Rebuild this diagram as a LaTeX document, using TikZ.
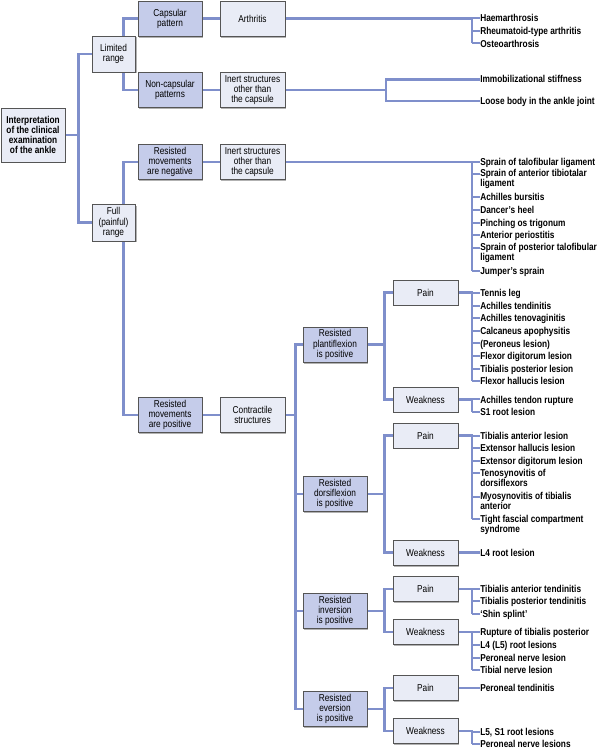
\documentclass[tikz,border=0pt]{standalone}
\usepackage{fontspec}
\setmainfont[FakeStretch=0.83]{Liberation Sans}
\usepackage{tikz}
\usepackage{xcolor}
\usetikzlibrary{backgrounds}
\usetikzlibrary{shadows}
\definecolor{linkblue}{HTML}{7F8FCB}
\definecolor{darkfill}{HTML}{C5CCEA}
\definecolor{lightfill}{HTML}{E9ECF6}
\definecolor{boxline}{HTML}{555555}
\tikzset{box/.style={draw=boxline, line width=0.5pt, fill=lightfill, align=center,
   inner sep=0pt, minimum width=48pt, minimum height=26.5pt,
   font=\fontsize{7.5}{7.6}\selectfont,
   drop shadow={shadow xshift=1pt, shadow yshift=-1pt, fill=black, opacity=0.3}},
 darkbox/.style={fill=darkfill},
 smallbox/.style={minimum width=48.75pt, minimum height=18.75pt},
 item/.style={anchor=north west, align=left, inner sep=0pt,
   font=\fontsize{7.5}{7.6}\selectfont\bfseries,
   execute at begin node={\rule{0pt}{6pt}}},
 link/.style={draw=linkblue, line width=2.2pt},
 itemtick/.style={draw=linkblue, line width=1.5pt},
 }

\begin{document}
\begin{tikzpicture}[x=0.75pt, y=-0.75pt]
        \useasboundingbox (0,0) rectangle (598,750);
        \node[box, minimum height=40.5pt, font=\fontsize{7.5}{7.6}\selectfont\bfseries] (root) at (33,135) {Interpretation\\of the clinical\\examination\\of the ankle};
        \node[box, minimum width=32.5pt, minimum height=27pt] (limited) at (113.5,54) {Limited\\range};
        \node[box, minimum width=32.5pt, minimum height=27.5pt] (full) at (113.5,222.5) {Full\\(painful)\\range};
        \node[box, darkbox] (capsular) at (170,18.5) {Capsular\\pattern};
        \node[box, darkbox] (noncap) at (170,90) {Non-capsular\\patterns};
        \node[box, darkbox] (resneg) at (170,162) {Resisted\\movements\\are negative};
        \node[box, darkbox] (respos) at (170,415) {Resisted\\movements\\are positive};
        \node[box, minimum width=48.75pt] (arthritis) at (252.5,18.5) {Arthritis};
        \node[box, minimum width=48.75pt] (inert1) at (252.5,90) {Inert structures\\other than\\the capsule};
        \node[box, minimum width=48.75pt] (inert2) at (252.5,162) {Inert structures\\other than\\the capsule};
        \node[box, minimum width=48.75pt] (contr) at (252.5,415) {Contractile\\structures};
        \node[box, darkbox] (plant) at (335,344.5) {Resisted\\plantiflexion\\is positive};
        \node[box, darkbox] (dorsi) at (335,494) {Resisted\\dorsiflexion\\is positive};
        \node[box, darkbox] (inv) at (335,611) {Resisted\\inversion\\is positive};
        \node[box, darkbox] (ever) at (335,709) {Resisted\\eversion\\is positive};
        \node[box, smallbox] (painP) at (425.5,292.5) {Pain};
        \node[box, smallbox] (weakP) at (425.5,399.5) {Weakness};
        \node[box, smallbox] (painD) at (425.5,435.5) {Pain};
        \node[box, smallbox] (weakD) at (425.5,552.7) {Weakness};
        \node[box, smallbox] (painI) at (425.5,589) {Pain};
        \node[box, smallbox] (weakI) at (425.5,632) {Weakness};
        \node[box, smallbox] (painE) at (425.5,688) {Pain};
        \node[box, smallbox] (weakE) at (425.5,731) {Weakness};

        \foreach \y/\t [count=\i] in {18.3/Haemarthrosis, 30.9/Rheumatoid-type arthritis, 43.4/Osteoarthrosis}{
            \coordinate (a\i) at (472,\y);
            \node[item] (ta\i) at (480,{\y-4.6}) {\t};
            \draw[itemtick] (a\i) -- (a\i -| ta\i.west);
        }
        \foreach \y/\t [count=\i] in {79.3/Immobilizational stiffness, 101/Loose body in the ankle joint}{
            \coordinate (b\i) at (386,\y);
            \node[item] (tb\i) at (480,{\y-4.6}) {\t};
        }
        \foreach \y/\t [count=\i] in {161.8/Sprain of talofibular ligament, 173.5/{Sprain of anterior tibiotalar\\ligament},
            197.3/Achilles bursitis, 210/Dancer’s heel, 222.6/Pinching os trigonum, 235.2/Anterior periostitis,
            247.6/{Sprain of posterior talofibular\\ligament}, 270.7/Jumper’s sprain}{
            \coordinate (c\i) at (472,\y);
            \node[item] (tc\i) at (480,{\y-4.6}) {\t};
            \draw[itemtick] (c\i) -- (c\i -| tc\i.west);
        }
        \foreach \y/\t [count=\i] in {293/Tennis leg, 305.6/Achilles tendinitis, 318.2/Achilles tenovaginitis,
            330.8/Calcaneus apophysitis, 343.4/(Peroneus lesion), 356/Flexor digitorum lesion,
            368.6/Tibialis posterior lesion, 381.2/Flexor hallucis lesion}{
            \coordinate (d\i) at (472,\y);
            \node[item] (td\i) at (480,{\y-4.6}) {\t};
            \draw[itemtick] (d\i) -- (d\i -| td\i.west);
        }
        \foreach \y/\t [count=\i] in {399.4/Achilles tendon rupture, 412/S1 root lesion}{
            \coordinate (e\i) at (472,\y);
            \node[item] (te\i) at (480,{\y-4.6}) {\t};
            \draw[itemtick] (e\i) -- (e\i -| te\i.west);
        }
        \foreach \y/\t [count=\i] in {435.7/Tibialis anterior lesion, 448.3/Extensor hallucis lesion,
            461/Extensor digitorum lesion, 473.4/{Tenosynovitis of\\dorsiflexors},
            496.6/{Myosynovitis of tibialis\\anterior}, 519.4/{Tight fascial compartment\\syndrome}}{
            \coordinate (f\i) at (472,\y);
            \node[item] (tf\i) at (480,{\y-4.6}) {\t};
            \draw[itemtick] (f\i) -- (f\i -| tf\i.west);
        }
        \node[item] (tg) at (480,548.1) {L4 root lesion};
        \foreach \y/\t [count=\i] in {588.5/Tibialis anterior tendinitis, 601.3/Tibialis posterior tendinitis, 614/‘Shin splint’}{
            \coordinate (h\i) at (472,\y);
            \node[item] (th\i) at (480,{\y-4.6}) {\t};
            \draw[itemtick] (h\i) -- (h\i -| th\i.west);
        }
        \foreach \y/\t [count=\i] in {632.3/Rupture of tibialis posterior, 645/L4 (L5) root lesions,
            657.5/Peroneal nerve lesion, 670/Tibial nerve lesion}{
            \coordinate (i\i) at (472,\y);
            \node[item] (ti\i) at (480,{\y-4.6}) {\t};
            \draw[itemtick] (i\i) -- (i\i -| ti\i.west);
        }
        \node[item] (tj) at (480,683.1) {Peroneal tendinitis};
        \foreach \y/\t [count=\i] in {731.5/{L5, S1 root lesions}, 744/Peroneal nerve lesions}{
            \coordinate (k\i) at (472,\y);
            \node[item] (tk\i) at (480,{\y-4.6}) {\t};
            \draw[itemtick] (k\i) -- (k\i -| tk\i.west);
        }

        \begin{scope}[on background layer]
            \draw[link] (root.east) -- ++(14,0);
            \draw[link] (limited.west) -- ++(-13,0) |- (full.west);
            \draw[link] ([xshift=-9pt]limited.north east) |- (capsular.west);
            \draw[link] ([xshift=-9pt]limited.south east) |- (noncap.west);
            \draw[link] ([xshift=-9pt]full.north east) |- (resneg.west);
            \draw[link] ([xshift=-9pt]full.south east) |- (respos.west);
            \draw[link] (capsular) -- (arthritis);
            \draw[link] (noncap) -- (inert1);
            \draw[link] (resneg) -- (inert2);
            \draw[link] (respos) -- (contr);
            \draw[link] (contr.east) -- ++(11,0);
            \draw[link] (plant.west) -- ++(-7,0) |- (ever.west);
            \draw[link] (dorsi.west) -- ++(-7,0);
            \draw[link] (inv.west) -- ++(-7,0);
            \foreach \s in {plant,dorsi,inv,ever}{
                \draw[link] (\s.east) -- ++(18,0);
            }
            \draw[link] (painP.west) -- ++(-8,0) |- (weakP.west);
            \draw[link] (painD.west) -- ++(-8,0) |- (weakD.west);
            \draw[link] (painI.west) -- ++(-8,0) |- (weakI.west);
            \draw[link] (painE.west) -- ++(-8,0) |- (weakE.west);
            \draw[link] (arthritis.east) -| (a3);
            \draw[link] (inert1.east) -- (inert1.east -| b1);
            \draw[link] (tb1.west |- b1) -- (b1) -- (b2) -- (tb2.west |- b2);
            \draw[link] (inert2.east) -| (c8);
            \draw[link] (painP.east) -| (d8);
            \draw[link] (weakP.east) -| (e2);
            \draw[link] (painD.east) -| (f6);
            \draw[link] (weakD.east) -- (weakD.east -| tg.west);
            \draw[link] (painI.east) -| (h3);
            \draw[link] (weakI.east) -| (i4);
            \draw[link] (painE.east) -- (painE.east -| tj.west);
            \draw[link] (weakE.east) -| (k2);
        \end{scope}
    \end{tikzpicture}
\end{document}
